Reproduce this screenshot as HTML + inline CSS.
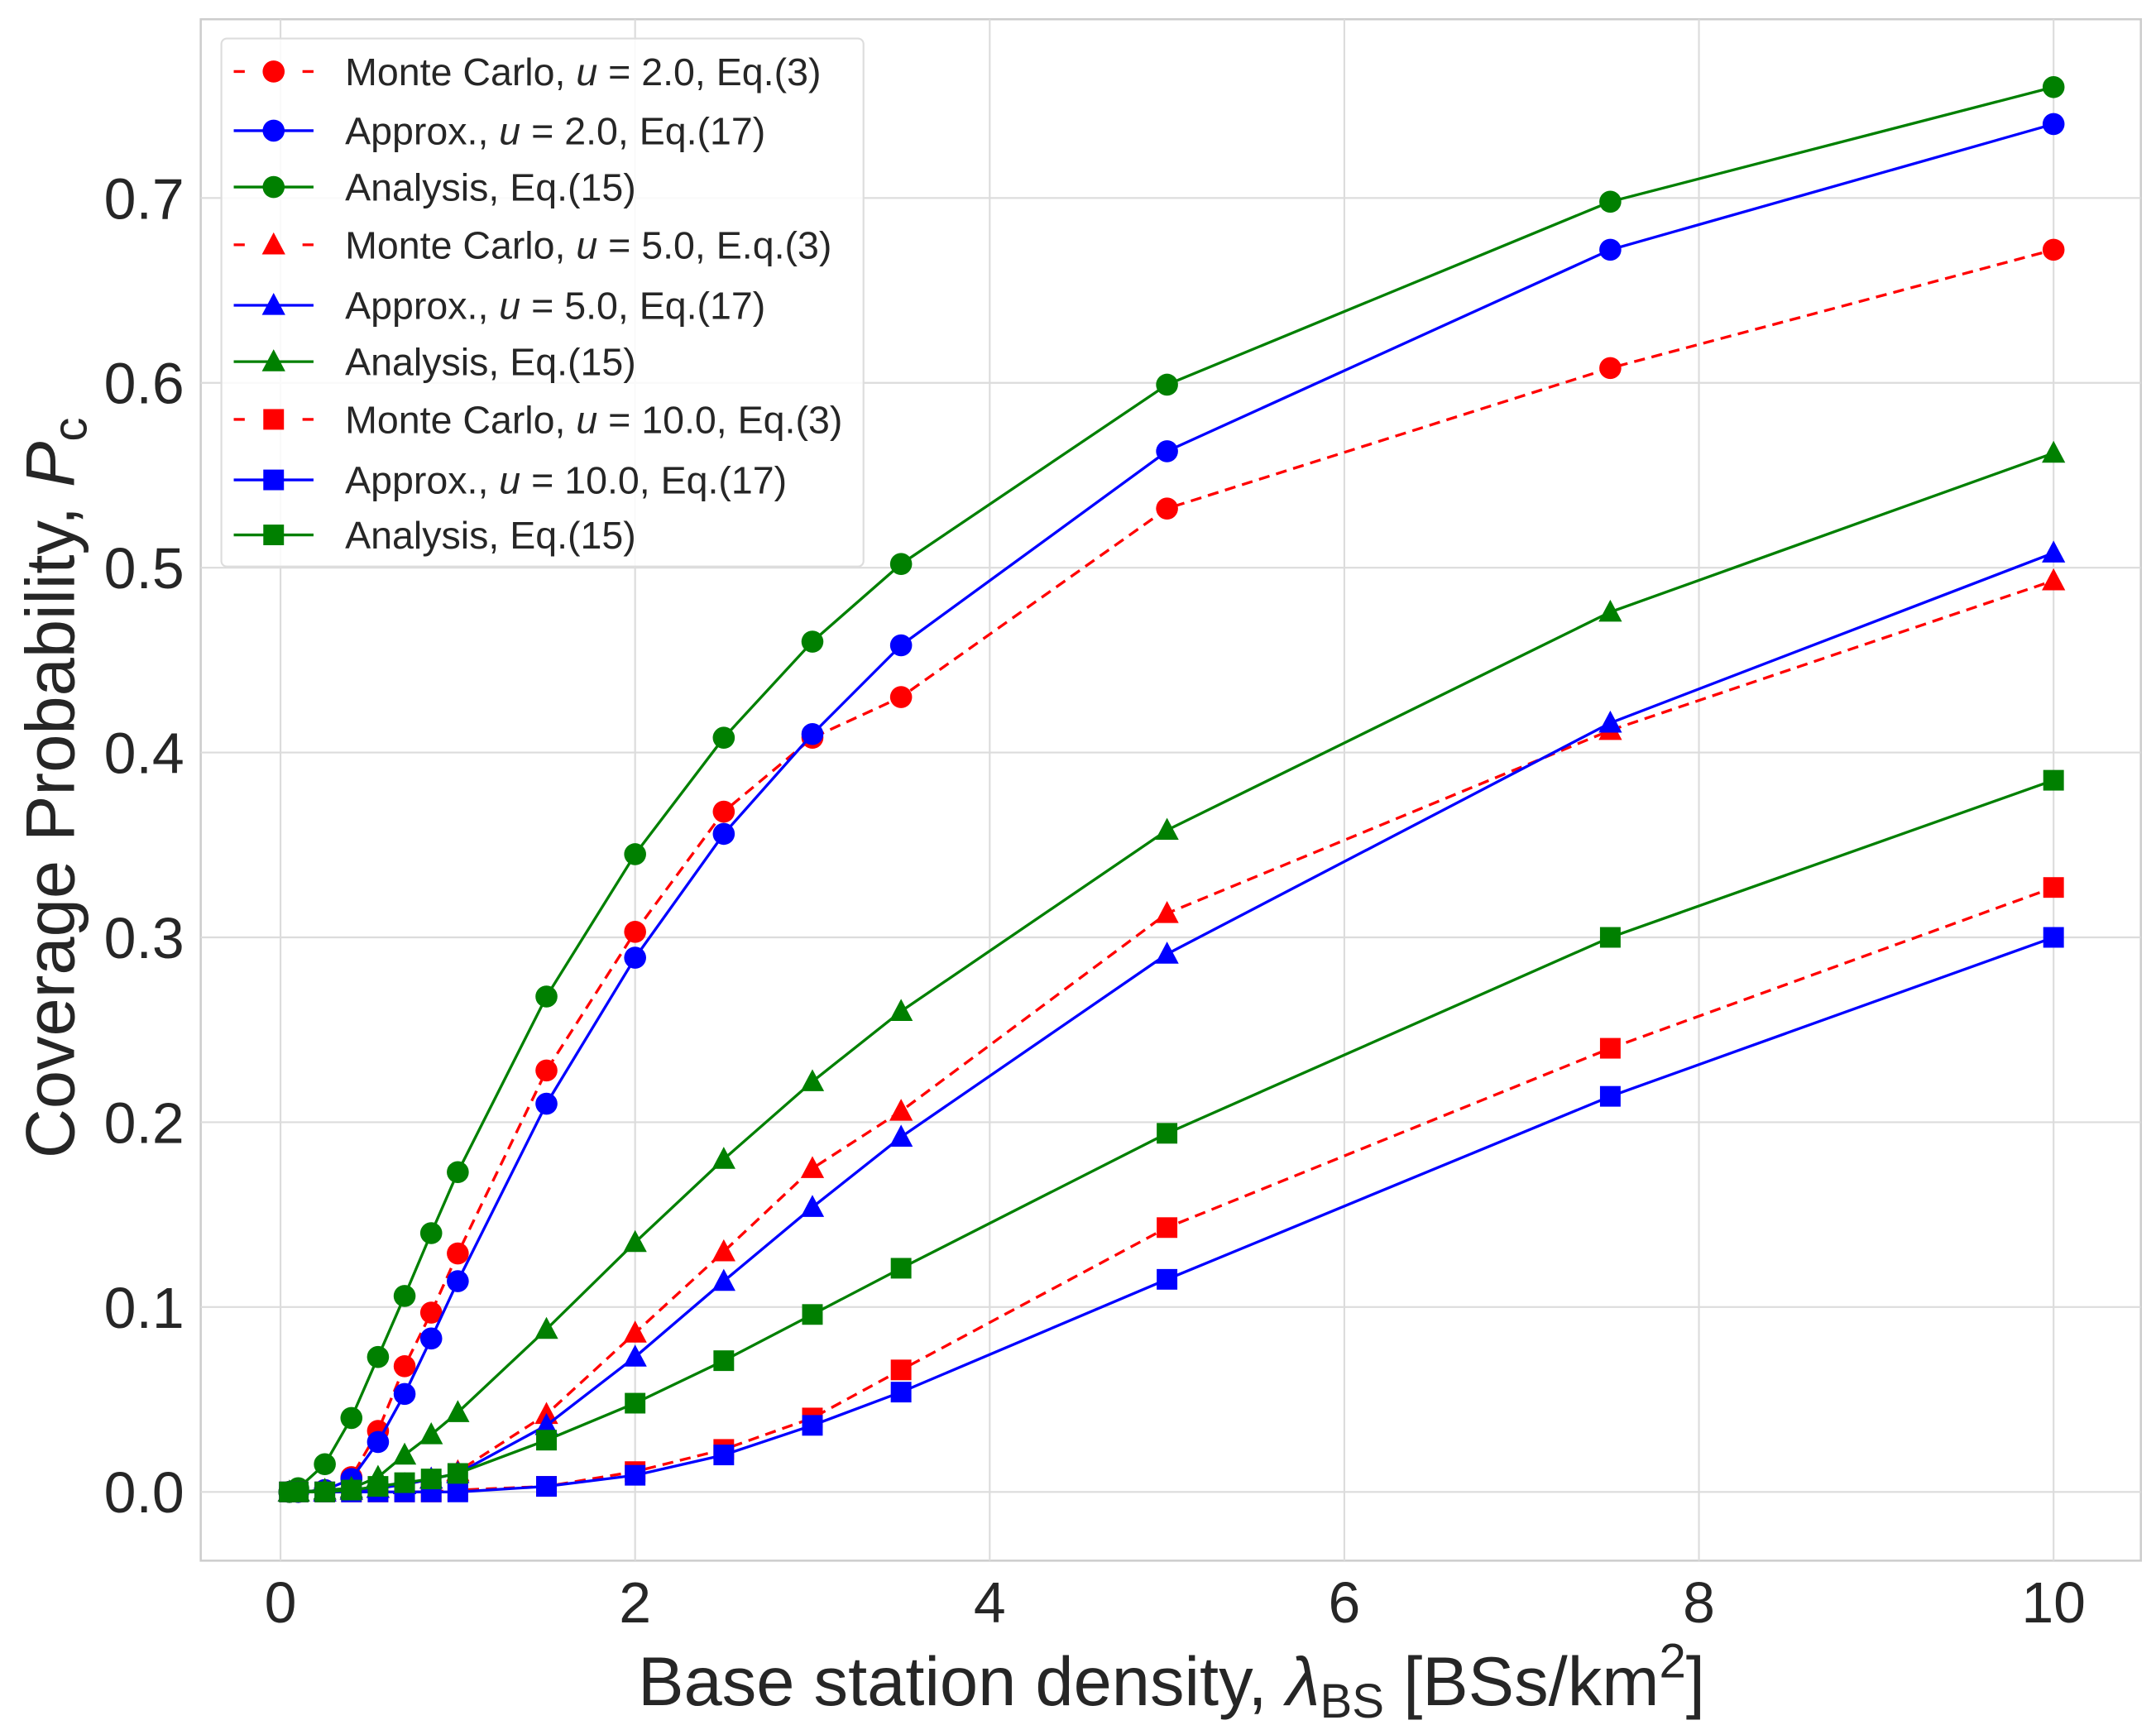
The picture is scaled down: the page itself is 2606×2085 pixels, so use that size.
<!DOCTYPE html>
<html><head><meta charset="utf-8"><style>
html,body{margin:0;padding:0;background:#fff}
svg{display:block}
text{font-family:"Liberation Sans",sans-serif;fill:#262626}
</style></head><body>
<svg id="chart" width="2606" height="2085" viewBox="0 0 1568 1254.5" xmlns="http://www.w3.org/2000/svg">
<rect x="146" y="14" width="1411" height="1121" fill="#fff" stroke="#ccc" stroke-width="1.5"/>
<g id="grid"></g>
<g id="series"></g>
<g id="ticks"></g>
<text x="852" y="1240" font-size="50" text-anchor="middle">Base station density, <tspan font-style="italic">λ</tspan><tspan font-size="35" dy="9">BS</tspan><tspan dy="-9"> [BSs/km</tspan><tspan font-size="35" dy="-20">2</tspan><tspan dy="20">]</tspan></text>
<text transform="translate(54,573) rotate(-90)" font-size="50" text-anchor="middle">Coverage Probability, <tspan font-style="italic">P</tspan><tspan font-size="35" dy="9">c</tspan></text>
<g id="legend"></g>
</svg>
<script>
const xVals=[0.05,0.1,0.25,0.4,0.55,0.7,0.85,1,1.5,2,2.5,3,3.5,5,7.5,10];
const mcU2=[0,0,0.001,0.008,0.033,0.068,0.097,0.129,0.228,0.303,0.368,0.408,0.43,0.532,0.608,0.672];
const apU2=[0,0,0.001,0.007,0.027,0.053,0.083,0.114,0.21,0.289,0.356,0.41,0.458,0.563,0.672,0.74];
const anU2=[0,0.002,0.015,0.04,0.073,0.106,0.14,0.173,0.268,0.345,0.408,0.46,0.502,0.599,0.698,0.76];
const mcU5=[0,0,0,0.001,0.002,0.004,0.007,0.011,0.042,0.086,0.13,0.175,0.206,0.313,0.412,0.493];
const apU5=[0,0,0,0.001,0.002,0.004,0.007,0.01,0.036,0.073,0.114,0.154,0.192,0.291,0.416,0.508];
const anU5=[0,0,0.001,0.002,0.008,0.02,0.031,0.043,0.088,0.135,0.18,0.222,0.26,0.358,0.476,0.562];
const mcU10=[0,0,0,0,0,0,0,0.001,0.003,0.011,0.023,0.04,0.066,0.143,0.24,0.327];
const apU10=[0,0,0,0,0,0,0,0,0.003,0.009,0.02,0.036,0.054,0.115,0.214,0.3];
const anU10=[0,0,0,0.001,0.003,0.005,0.007,0.01,0.028,0.048,0.071,0.096,0.121,0.194,0.3,0.385];
const xTicks=[0,2,4,6,8,10];
const yTicks=[0,0.1,0.2,0.3,0.4,0.5,0.6,0.7];
const legendLabels=[
 ['Monte Carlo, ','u',' = 2.0, Eq.(3)'],['Approx., ','u',' = 2.0, Eq.(17)'],['Analysis, Eq.(15)','',''],
 ['Monte Carlo, ','u',' = 5.0, E.q.(3)'],['Approx., ','u',' = 5.0, Eq.(17)'],['Analysis, Eq.(15)','',''],
 ['Monte Carlo, ','u',' = 10.0, Eq.(3)'],['Approx., ','u',' = 10.0, Eq.(17)'],['Analysis, Eq.(15)','','']];
const NS='http://www.w3.org/2000/svg';
const xs=v=>204+v*128.95, ys=v=>1085-v*1344.3;
function mk(tag,attrs,parent){const e=document.createElementNS(NS,tag);for(const k in attrs)e.setAttribute(k,attrs[k]);parent.appendChild(e);return e;}
const grid=document.getElementById('grid'),ticks=document.getElementById('ticks'),ser=document.getElementById('series'),leg=document.getElementById('legend');
xTicks.forEach(t=>{
 const l=mk('line',{x1:xs(t),x2:xs(t),y1:14,y2:1135,stroke:'#dcdcdc','stroke-width':1.3},grid);
 
 
 const tx=mk('text',{x:xs(t),y:1180,'font-size':42,'text-anchor':'middle'},ticks);tx.textContent=t;
 
 
});
yTicks.forEach(t=>{
 const l=mk('line',{x1:146,x2:1557,y1:ys(t),y2:ys(t),stroke:'#dcdcdc','stroke-width':1.3},grid);
 
 
 const tx=mk('text',{x:134,y:ys(t)+15,'font-size':42,'text-anchor':'end'},ticks);tx.textContent=t.toFixed(1);
 
 
});
function marker(shape,x,y,color,parent){
 let e;
 if(shape==='c')e=mk('circle',{cx:x,cy:y,r:8,fill:color},parent);
 else if(shape==='t')e=mk('polygon',{points:`${x},${y-9} ${x+8.5},${y+7} ${x-8.5},${y+7}`,fill:color},parent);
 else e=mk('rect',{x:x-7.5,y:y-7.5,width:15,height:15,fill:color},parent);
 return e;
}
const series=[
 [mcU2,'red','c',true,'mc-u2'],[apU2,'blue','c',false,'approx-u2'],[anU2,'green','c',false,'analysis-u2'],
 [mcU5,'red','t',true,'mc-u5'],[apU5,'blue','t',false,'approx-u5'],[anU5,'green','t',false,'analysis-u5'],
 [mcU10,'red','s',true,'mc-u10'],[apU10,'blue','s',false,'approx-u10'],[anU10,'green','s',false,'analysis-u10']];
const colors={red:'#ff0000',blue:'#0000ff',green:'#008000'};
series.forEach(([vals,c,shape,dash,name])=>{
 const g=mk('g',{},ser);
 
 
 const pl=mk('polyline',{points:vals.map((v,i)=>xs(xVals[i])+','+ys(v)).join(' '),fill:'none',stroke:colors[c],'stroke-width':2,'stroke-dasharray':dash?'8,5':'none'},g);
 
 
 vals.forEach((v,i)=>{const m=marker(shape,xs(xVals[i]),ys(v),colors[c],g);
  
  });
});
const box=mk('rect',{x:161,y:28,width:467,height:384,rx:4,fill:'#fff','fill-opacity':0.85,stroke:'#ddd','stroke-width':1.3},leg);


const rowY=[52,95,136,178,222,263,305,349,389];
series.forEach(([vals,c,shape,dash,name],i)=>{
 const g=mk('g',{},leg);
 
 
 const y=rowY[i];
 mk('line',{x1:170,x2:228,y1:y,y2:y,stroke:colors[c],'stroke-width':2,'stroke-dasharray':dash?'8,17':'none'},g);
 marker(shape,199,y,colors[c],g);
 const t=mk('text',{x:251,y:y+10,'font-size':28},g);
 const [a,b,d]=legendLabels[i];
 t.appendChild(document.createTextNode(a));
 if(b){const ts=mk('tspan',{'font-style':'italic'},t);ts.textContent=b;t.appendChild(document.createTextNode(d));}
});
</script>
</body></html>
